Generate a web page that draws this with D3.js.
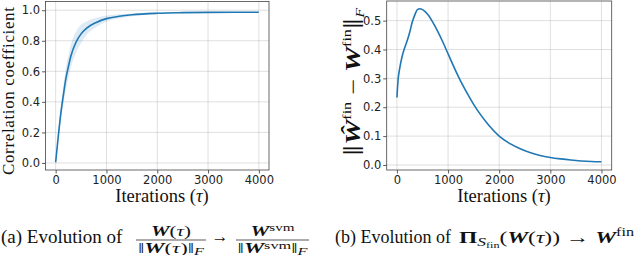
<!DOCTYPE html>
<html><head><meta charset="utf-8">
<script src="https://cdn.jsdelivr.net/npm/d3@7"></script>
<style>body{margin:0;background:#fff}svg{display:block}</style>
</head><body>
<svg id="c" width="640" height="255"></svg>
<script>
// ---- data ----
const iterTicks = [0, 1000, 2000, 3000, 4000];
const corrTicks = [0.0, 0.2, 0.4, 0.6, 0.8, 1.0];
const distTicks = [0.0, 0.1, 0.2, 0.3, 0.4, 0.5];
const corrIter = [0, 50, 100, 150, 200, 250, 300, 400, 500, 600, 800, 1000, 1250, 1500, 2000, 2500, 3000, 3500, 4000];
const corrMean = [0.005, 0.17, 0.32, 0.44, 0.55, 0.63, 0.70, 0.79, 0.845, 0.88, 0.92, 0.945, 0.96, 0.97, 0.98, 0.984, 0.986, 0.987, 0.987];
const corrSpread = [0, 0.025, 0.045, 0.06, 0.07, 0.075, 0.075, 0.07, 0.06, 0.045, 0.03, 0.02, 0.013, 0.009, 0.005, 0.003, 0.002, 0.002, 0.002];
const distIter = [0, 25, 50, 100, 150, 200, 250, 300, 350, 400, 450, 500, 600, 700, 800, 900, 1000, 1100, 1200, 1300, 1400, 1500, 1600, 1800, 2000, 2200, 2400, 2600, 2800, 3000, 3200, 3400, 3600, 3800, 4000];
const distVal = [0.234, 0.30, 0.33, 0.375, 0.405, 0.43, 0.46, 0.495, 0.52, 0.538, 0.541, 0.538, 0.522, 0.495, 0.462, 0.425, 0.385, 0.345, 0.307, 0.272, 0.24, 0.21, 0.183, 0.137, 0.10, 0.075, 0.057, 0.043, 0.033, 0.026, 0.021, 0.017, 0.014, 0.012, 0.011];

const svg = d3.select("#c");
const BLUE = "#1f77b4";
const SERIF = "'Liberation Serif','DejaVu Serif',serif";
const SANS = "'DejaVu Sans',sans-serif";

function panel(box, xDom, yDom, yTicks) {
  const x = d3.scaleLinear().domain(xDom).range([box.l, box.r]);
  const y = d3.scaleLinear().domain(yDom).range([box.b, box.t]);
  const g = svg.append("g");
  g.append("g").selectAll("line").data(iterTicks).join("line")
    .attr("x1", d => x(d)).attr("x2", d => x(d)).attr("y1", box.t).attr("y2", box.b)
    .attr("stroke", "#b0b0b0").attr("stroke-opacity", 0.5).attr("stroke-width", 0.8);
  g.append("g").selectAll("line").data(yTicks).join("line")
    .attr("y1", d => y(d)).attr("y2", d => y(d)).attr("x1", box.l).attr("x2", box.r)
    .attr("stroke", "#b0b0b0").attr("stroke-opacity", 0.5).attr("stroke-width", 0.8);
  return {x, y, g};
}

function frame(p, box, yTicks, yFmt) {
  const xa = d3.axisBottom(p.x).tickValues(iterTicks).tickSize(3.5).tickPadding(2).tickFormat(d3.format("d"));
  const ya = d3.axisLeft(p.y).tickValues(yTicks).tickSize(3.5).tickPadding(2).tickFormat(yFmt);
  const gx = p.g.append("g").attr("transform", `translate(0,${box.b})`).call(xa);
  const gy = p.g.append("g").attr("transform", `translate(${box.l},0)`).call(ya);
  [gx, gy].forEach(a => {
    a.select(".domain").remove();
    a.selectAll("line").attr("stroke", "#333").attr("stroke-width", 0.8);
    a.selectAll("text").attr("font-family", SANS).attr("font-size", 11.5).attr("fill", "#222");
  });
  p.g.append("rect").attr("x", box.l).attr("y", box.t).attr("width", box.r - box.l).attr("height", box.b - box.t)
    .attr("fill", "none").attr("stroke", "#444").attr("stroke-width", 0.8);
}

// ---- panel (a) ----
const boxA = {l: 45.5, r: 269, t: 1.5, b: 170};
const pA = panel(boxA, [-200, 4200], [-0.046, 1.057], corrTicks);
const corrData = corrIter.map((t, i) => ({t, m: corrMean[i], s: corrSpread[i]}));
pA.g.append("path").datum(corrData)
  .attr("d", d3.area().curve(d3.curveMonotoneX).x(d => pA.x(d.t)).y0(d => pA.y(d.m - d.s)).y1(d => pA.y(Math.min(d.m + d.s, 1.0))))
  .attr("fill", BLUE).attr("fill-opacity", 0.15);
pA.g.append("path").datum(corrData)
  .attr("d", d3.line().curve(d3.curveMonotoneX).x(d => pA.x(d.t)).y(d => pA.y(d.m)))
  .attr("fill", "none").attr("stroke", BLUE).attr("stroke-width", 1.6);
frame(pA, boxA, corrTicks, d3.format(".1f"));

// ---- panel (b) ----
const boxB = {l: 386.7, r: 611.7, t: 1, b: 170};
const pB = panel(boxB, [-200, 4200], [-0.0174, 0.568], distTicks);
const distData = distIter.map((t, i) => ({t, v: distVal[i]}));
pB.g.append("path").datum(distData)
  .attr("d", d3.line().curve(d3.curveMonotoneX).x(d => pB.x(d.t)).y(d => pB.y(d.v)))
  .attr("fill", "none").attr("stroke", BLUE).attr("stroke-width", 1.6);
frame(pB, boxB, distTicks, d3.format(".1f"));

// ---- helpers ----
function lbl(x, y, str, w, opts = {}) {
  const t = svg.append("text").attr("x", x).attr("y", y).attr("font-family", SERIF)
    .attr("font-size", opts.size || 17).attr("fill", "#111").text(str);
  if (opts.anchor) t.attr("text-anchor", opts.anchor);
  if (w) t.attr("textLength", w).attr("lengthAdjust", opts.adj || "spacingAndGlyphs");
  if (opts.rot) t.attr("transform", `rotate(-90,${x},${y})`);
  return t;
}
function pieces(t, pcs) {
  pcs.forEach(p => {
    const s = t.append("tspan").text(p.s);
    if (p.b) s.attr("font-weight", "bold");
    if (p.i) s.attr("font-style", "italic");
    if (p.fs) s.attr("font-size", p.fs);
    if (p.dy) s.attr("dy", p.dy);
  });
  return t;
}
// x labels
function iterLabel(cx) {
  const t = svg.append("text").attr("x", cx).attr("y", 202).attr("text-anchor", "middle")
    .attr("font-family", SERIF).attr("font-size", 18.5).attr("fill", "#111");
  pieces(t, [{s: "Iterations ("}, {s: "τ", i: 1}, {s: ")"}]);
}
iterLabel(162);
iterLabel(504);
// y label a
lbl(14, 91, "Correlation coefficient", 168, {anchor: "middle", rot: true, adj: "spacing"});
// y label b
(function () {
  const g = svg.append("g").attr("transform", "translate(360,82) rotate(-90)");
  const t = g.append("text").attr("x", -74).attr("font-family", SERIF).attr("font-size", 21).attr("fill", "#111")
    .attr("textLength", 148).attr("lengthAdjust", "spacingAndGlyphs");
  pieces(t, [
    {s: "‖", fs: 30, dy: 3},
    {s: "Ŵ", b: 1, i: 1, dy: -3},
    {s: "fin", fs: 12, dy: -9},
    {s: " − ", dy: 9},
    {s: "W", b: 1, i: 1},
    {s: "fin", fs: 12, dy: -9},
    {s: "‖", fs: 30, dy: 12},
    {s: "F", fs: 12, i: 1, dy: 1}
  ]);
})();

// ---- captions ----
const capY = 243;
lbl(1, capY, "(a) Evolution of", null, {size: 19});
function frac(x0, x1, num, nw, den, dw) {
  const cx = (x0 + x1) / 2;
  svg.append("line").attr("x1", x0).attr("x2", x1).attr("y1", 240).attr("y2", 240).attr("stroke", "#111").attr("stroke-width", 0.7);
  [[num, nw, 236], [den, dw, 252.5]].forEach(([pcs, w, y]) => {
    const t = svg.append("text").attr("x", cx - w / 2).attr("y", y)
      .attr("font-family", SERIF).attr("font-size", 14).attr("fill", "#111")
      .attr("textLength", w).attr("lengthAdjust", "spacingAndGlyphs");
    pieces(t, pcs);
  });
}
frac(136, 206,
  [{s: "W", b: 1, i: 1}, {s: "("}, {s: "τ", i: 1}, {s: ")"}], 40,
  [{s: "‖"}, {s: "W", b: 1, i: 1}, {s: "("}, {s: "τ", i: 1}, {s: ")"}, {s: "‖"}, {s: "F", i: 1, fs: 10, dy: 2}], 66);
lbl(220, capY - 1, "→", null, {anchor: "middle", size: 17});
frac(236, 309,
  [{s: "W", b: 1, i: 1}, {s: "svm", fs: 10, dy: -5}], 44,
  [{s: "‖"}, {s: "W", b: 1, i: 1}, {s: "svm", fs: 10, dy: -4}, {s: "‖", dy: 4}, {s: "F", i: 1, fs: 10, dy: 2}], 70);

// caption b
lbl(335, capY, "(b) Evolution of", null, {size: 18});
(function () {
  const t = svg.append("text").attr("x", 459).attr("y", capY).attr("font-family", SERIF).attr("font-size", 17.5).attr("fill", "#111")
    .attr("textLength", 175).attr("lengthAdjust", "spacingAndGlyphs");
  pieces(t, [
    {s: "Π", b: 1},
    {s: "S", i: 1, fs: 13, dy: 3},
    {s: "fin", fs: 9, dy: 2},
    {s: "(", dy: -5},
    {s: "W", b: 1, i: 1},
    {s: "("}, {s: "τ", i: 1}, {s: ")) → "},
    {s: "W", b: 1, i: 1},
    {s: "fin", fs: 12, dy: -7}
  ]);
})();
</script>
</body></html>
